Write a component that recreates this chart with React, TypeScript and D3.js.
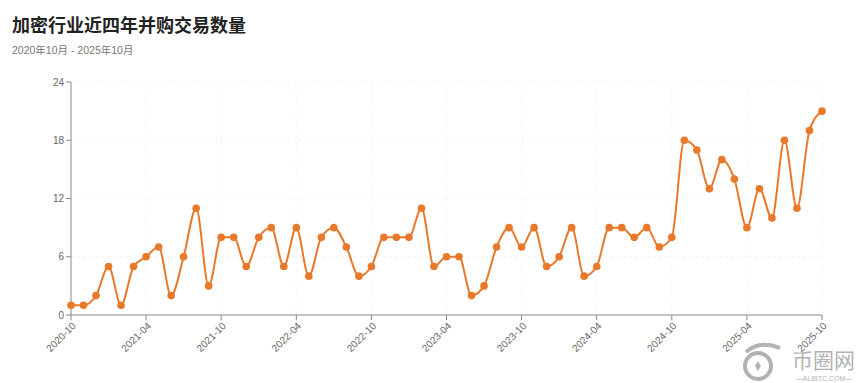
import React from "react";
import * as d3 from "d3";

const months: string[] = [
  "2020-10","2020-11","2020-12",
  "2021-01","2021-02","2021-03","2021-04","2021-05","2021-06","2021-07","2021-08","2021-09","2021-10","2021-11","2021-12",
  "2022-01","2022-02","2022-03","2022-04","2022-05","2022-06","2022-07","2022-08","2022-09","2022-10","2022-11","2022-12",
  "2023-01","2023-02","2023-03","2023-04","2023-05","2023-06","2023-07","2023-08","2023-09","2023-10","2023-11","2023-12",
  "2024-01","2024-02","2024-03","2024-04","2024-05","2024-06","2024-07","2024-08","2024-09","2024-10","2024-11","2024-12",
  "2025-01","2025-02","2025-03","2025-04","2025-05","2025-06","2025-07","2025-08","2025-09","2025-10",
];
const counts: number[] = [
  1,1,2,
  5,1,5,6,7,2,6,11,3,8,8,5,
  8,9,5,9,4,8,9,7,4,5,8,8,
  8,11,5,6,6,2,3,7,9,7,9,5,
  6,9,4,5,9,9,8,9,7,8,18,17,
  13,16,14,9,13,10,18,11,19,21,
];
const xTickLabels: string[] = ["2020-10","2021-04","2021-10","2022-04","2022-10","2023-04","2023-10","2024-04","2024-10","2025-04","2025-10"];
const yTicks: number[] = [0, 6, 12, 18, 24];

const title = "加密行业近四年并购交易数量";
const subtitle = "2020年10月 - 2025年10月";

export default function App() {
  const W = 860, H = 383;
  const left = 71, right = 822, top = 82, bottom = 315;
  const x = d3.scalePoint<string>().domain(months).range([left, right]);
  const y = d3.scaleLinear().domain([0, 24]).range([bottom, top]);
  const line = d3.line<number>()
    .x((_, i) => x(months[i]) as number)
    .y((d) => y(d))
    .curve(d3.curveMonotoneX);
  const color = "#e8792a";
  const font = "'Liberation Sans', 'Noto Sans CJK SC', sans-serif";
  const axisColor = "#888";
  const labelColor = "#666";

  return (
    <svg width={W} height={H} style={{ position: "absolute", left: 0, top: 0, background: "#fff" }} fontFamily={font}>
      <rect x={0} y={0} width={W} height={H} fill="#fff" />
      <text x={12} y={32} fontSize={18} fontWeight="bold" fill="#222" fontFamily="'Noto Sans CJK SC', sans-serif">{title}</text>
      <text x={12} y={54} fontSize={10.5} fill="#777">{subtitle}</text>

      {/* grid */}
      {yTicks.filter((t) => t > 0).map((t) => (
        <line key={"gy" + t} x1={left} x2={right} y1={y(t)} y2={y(t)} stroke="#f3f3f3" strokeDasharray="3,3" />
      ))}
      {xTickLabels.slice(1).map((m) => (
        <line key={"gx" + m} x1={x(m)} x2={x(m)} y1={top} y2={bottom} stroke="#f5f5f5" strokeDasharray="3,3" />
      ))}

      {/* y axis */}
      <line x1={left} x2={left} y1={top} y2={bottom} stroke={axisColor} />
      {yTicks.map((t) => (
        <g key={"yt" + t}>
          <line x1={left - 5} x2={left} y1={y(t)} y2={y(t)} stroke={axisColor} />
          <text x={left - 7} y={y(t)} dy="0.35em" textAnchor="end" fontSize={10} fill={labelColor}>{t}</text>
        </g>
      ))}

      {/* x axis */}
      <line x1={left} x2={right} y1={bottom} y2={bottom} stroke={axisColor} />
      {xTickLabels.map((m) => {
        const px = x(m) as number;
        return (
          <g key={"xt" + m}>
            <line x1={px} x2={px} y1={bottom} y2={bottom + 5} stroke={axisColor} />
            <text transform={`translate(${px + 3},${bottom + 9}) rotate(-45)`} textAnchor="end" dy="0.35em" fontSize={10} fill={labelColor}>{m}</text>
          </g>
        );
      })}

      {/* line */}
      <path d={line(counts) || ""} fill="none" stroke={color} strokeWidth={2} />
      {counts.map((v, i) => (
        <circle key={"p" + i} cx={x(months[i])} cy={y(v)} r={3.8} fill={color} />
      ))}

      {/* watermark */}
      <g opacity={0.75}>
        <circle cx={758} cy={366} r={13} fill="none" stroke="#999" strokeWidth={4} />
        <path d="M 746 352 Q 760 340 780 348" fill="none" stroke="#999" strokeWidth={4} />
        <path d="M 758 361 L 761 366 L 758 371 L 755 366 Z" fill="#999" />
        <text x={792} y={368} fontSize={21} fill="#999" fontFamily="'Noto Sans CJK SC', sans-serif">币圈网</text>
        <text x={824} y={381} fontSize={7} textAnchor="middle" fill="#999">—ALIBTC.COM—</text>
      </g>
    </svg>
  );
}
